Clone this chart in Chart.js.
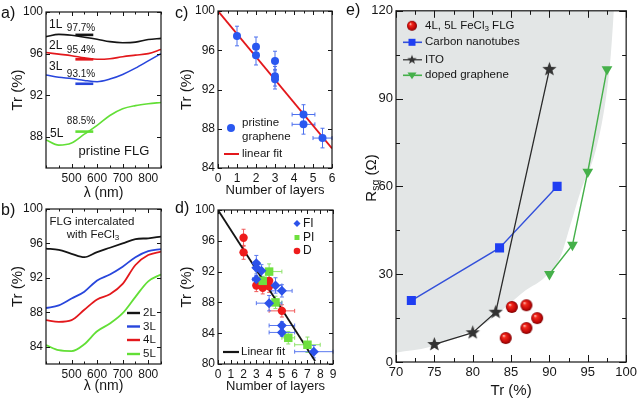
<!DOCTYPE html>
<html lang="en">
<head>
<meta charset="UTF-8">
<title>FLG transmittance and sheet resistance</title>
<script src="https://cdn.jsdelivr.net/npm/chart.js@4.4.0/dist/chart.umd.min.js"></script>
<style>
    body{margin:0;width:640px;height:403px;position:relative;overflow:hidden;background:#fff;
         font-family:'Liberation Sans',Arial,sans-serif;color:#111;}
    canvas{position:absolute;}
    .tag{position:absolute;font-size:16px;line-height:16px;}
</style>
</head>
<body>
<canvas id="ca" width="170" height="204" style="left:0;top:0"></canvas>
<canvas id="cb" width="170" height="200" style="left:0;top:196px"></canvas>
<canvas id="cc" width="170" height="204" style="left:172px;top:0"></canvas>
<canvas id="cd" width="170" height="200" style="left:172px;top:196px"></canvas>
<canvas id="ce" width="290" height="403" style="left:350px;top:0"></canvas>
<div class="tag" style="left:1px;top:5px">a)</div>
<div class="tag" style="left:1px;top:202px">b)</div>
<div class="tag" style="left:175px;top:5px">c)</div>
<div class="tag" style="left:175px;top:200px">d)</div>
<div class="tag" style="left:346px;top:2px">e)</div>
<script>
// a) pristine FLG spectra
const lambda = [400, 450, 500, 550, 600, 650, 700, 750, 800, 850];
const tr1L = [97.63, 97.85, 97.76, 97.58, 97.38, 97.15, 97.05, 97.1, 97.35, 97.46];
const tr2L = [96.1, 95.95, 95.8, 95.6, 95.45, 95.5, 95.7, 95.85, 96.0, 96.4];
const tr3L = [93.95, 93.72, 93.6, 93.42, 93.3, 93.55, 94.0, 94.6, 95.3, 96.0];
const tr5L = [87.7, 87.2, 87.4, 88.25, 89.1, 90.05, 90.7, 91.0, 91.18, 91.3];
const avgBand = [515, 585];
const avgTr = [97.8, 95.45, 93.1, 88.5];
const avgLabel = ['97.7%', '95.4%', '93.1%', '88.5%'];

// b) FeCl3 intercalated FLG spectra
const fe2L = [95.4, 95.25, 94.8, 94.4, 95.0, 95.5, 96.0, 96.5, 96.6, 96.8];
const fe3L = [88.5, 88.8, 89.6, 90.4, 91.7, 92.4, 93.3, 94.4, 95.1, 95.35];
const fe4L = [87.1, 86.9, 87.1, 88.3, 89.5, 90.1, 91.3, 93.5, 94.65, 95.05];
const fe5L = [84.2, 83.6, 83.5, 84.3, 85.8, 86.7, 87.9, 89.8, 91.6, 92.4];

// c) pristine graphene vs number of layers
const cLayers = [1, 2, 2, 3, 3, 3, 4.5, 4.5, 5.5];
const cTr = [97.45, 96.35, 95.5, 94.9, 93.35, 93.05, 89.45, 88.45, 87.05];
const cErrX = [0, 0, 0, 0, 0, 0, 0.6, 0.6, 0.5];
const cErrY = [1, 1, 1, 1, 1, 1, 1, 1, 1];
const cFitX = [0, 6];
const cFitY = [100, 86];

// d) intercalated samples vs number of layers
const fiN = [3, 3, 3.4, 3, 4.5, 5, 4, 5, 5, 7.5];
const fiTr = [93.1, 92.5, 92.1, 91.0, 90.2, 89.5, 87.9, 85.0, 84.1, 81.6];
const fiErrX = [0.2, 0.2, 0.4, 0.3, 0.5, 0.8, 1, 1, 1, 1.5];
const fiErrY = [1, 0.8, 0.8, 0.5, 1, 0.8, 1, 0.5, 0.5, 0.8];
const piN = [4, 3.5, 4.5, 5.5, 7];
const piTr = [92.0, 90.8, 88.0, 83.4, 82.5];
const piErrX = [1, 0.5, 0.5, 0.5, 1];
const piErrY = [1, 0.6, 0.8, 0.8, 1];
const dN = [2, 2, 3, 3.5, 4, 4, 5];
const dTr = [96.4, 94.5, 90.2, 89.9, 90.8, 90.1, 86.9];
const dErrX = [0, 0, 0, 0, 0, 0, 1];
const dErrY = [1.1, 0.9, 0.8, 0.8, 0.8, 0.8, 0.8];
const dFitX = [0, 7.6];
const dFitY = [100, 80.4];

// e) sheet resistance vs transmittance
const feTr = [84.3, 85.1, 87.0, 87.0, 88.4];
const feRs = [8.2, 18.8, 19.4, 11.6, 15.0];
const cntTr = [72, 83.5, 91];
const cntRs = [21, 39, 60];
const itoTr = [75, 80, 83, 90];
const itoRs = [6, 10, 17, 100];
const dgTr = [90, 93, 95, 97.5];
const dgRs = [30, 40, 65, 100];
const shadeTr = [70, 74.4, 77.8, 81.7, 84.3, 86.9, 89.4, 91.4, 92.8, 94.1, 96, 97.3, 98, 98.4];
const shadeRs = [3.2, 5.1, 8.5, 13.3, 18.8, 24.5, 29, 35.8, 47.4, 58.6, 72, 89, 105, 120];

// tick labels
const wlTicks = [500, 600, 700, 800];
const aYTicks = [88, 92, 96, 100];
const bYTicks = [84, 88, 92, 96, 100];
const cXTicks = [0, 1, 2, 3, 4, 5, 6];
const cYTicks = [84, 88, 92, 96, 100];
const dXTicks = [0, 1, 2, 3, 4, 5, 6, 7, 8, 9];
const dYTicks = [80, 84, 88, 92, 96, 100];
const eXTicks = [70, 75, 80, 85, 90, 95, 100];
const eYTicks = [0, 30, 60, 90, 120];

const FONT = "'Liberation Sans',Arial,sans-serif";
const INK = '#151515';
const RED = '#e3181c', BLUE = '#2846dc', GREEN = '#62df36';

const pts = (xs, ys) => xs.map((v, i) => ({x: v, y: ys[i]}));

// text with optional subscripts: parts are strings, or [string] for a subscript
function richText(ctx, x, y, parts, size, align, color) {
    ctx.save();
    ctx.fillStyle = color || INK;
    ctx.textBaseline = 'middle';
    ctx.textAlign = 'left';
    const seg = parts.map(p => {
        const sub = Array.isArray(p);
        const fs = sub ? size * 0.7 : size;
        ctx.font = fs + 'px ' + FONT;
        const t = sub ? p[0] : p;
        return {t, fs, sub, w: ctx.measureText(t).width};
    });
    const total = seg.reduce((s, g) => s + g.w, 0);
    let cx = align === 'center' ? x - total / 2 : align === 'right' ? x - total : x;
    seg.forEach(g => {
        ctx.font = g.fs + 'px ' + FONT;
        ctx.fillText(g.t, cx, g.sub ? y + size * 0.3 : y);
        cx += g.w;
    });
    ctx.restore();
}

function marker(ctx, style, x, y, r, color) {
    ctx.save();
    ctx.fillStyle = color;
    ctx.beginPath();
    if (style instanceof HTMLCanvasElement) {
        ctx.drawImage(style, x - style.width / 2, y - style.height / 2);
    } else if (style === 'circle') {
        ctx.arc(x, y, r, 0, 2 * Math.PI);
    } else if (style === 'rect') {
        ctx.rect(x - r, y - r, 2 * r, 2 * r);
    } else if (style === 'rectRot') {
        ctx.moveTo(x, y - r); ctx.lineTo(x + r, y); ctx.lineTo(x, y + r); ctx.lineTo(x - r, y);
    } else if (style === 'triDown') {
        ctx.moveTo(x - r, y - r * 0.6); ctx.lineTo(x + r, y - r * 0.6); ctx.lineTo(x, y + r * 0.9);
    }
    ctx.closePath();
    ctx.fill();
    ctx.restore();
}

// legends and notes, placed in pixels from the chart area's top-left corner
function overlay(items, extra) {
    return {
        id: 'overlay',
        afterDraw(chart) {
            const {ctx, chartArea: a} = chart;
            items.forEach(it => {
                const x = a.left + (it.dx || 0), y = a.top + it.dy;
                if (it.line) {
                    ctx.save();
                    ctx.strokeStyle = it.color; ctx.lineWidth = it.lw || 2;
                    ctx.beginPath();
                    ctx.moveTo(a.left + it.line[0], y); ctx.lineTo(a.left + it.line[1], y);
                    ctx.stroke();
                    ctx.restore();
                }
                if (it.mark) marker(ctx, it.mark, x, y, it.r, it.mcolor || it.color);
                if (it.text) richText(ctx, x, y, it.text, it.size, it.align || 'left', it.tcolor);
            });
            if (extra) extra(chart);
        }
    };
}

// box round the plot with inward ticks on all four sides
function frame(xMinor, yMinor, major, minor) {
    return {
        id: 'frame',
        afterDatasetsDraw(chart) {
            const {ctx, chartArea: a, scales: {x, y}} = chart;
            ctx.save();
            ctx.strokeStyle = INK;
            ctx.lineWidth = 1;
            ctx.beginPath();
            const tx = (v, len) => {
                const p = Math.round(x.getPixelForValue(v)) + 0.5;
                ctx.moveTo(p, a.bottom); ctx.lineTo(p, a.bottom - len);
                ctx.moveTo(p, a.top); ctx.lineTo(p, a.top + len);
            };
            const ty = (v, len) => {
                const p = Math.round(y.getPixelForValue(v)) + 0.5;
                ctx.moveTo(a.left, p); ctx.lineTo(a.left + len, p);
                ctx.moveTo(a.right, p); ctx.lineTo(a.right - len, p);
            };
            if (xMinor) for (let v = x.min; v <= x.max + 1e-6; v += xMinor) tx(v, minor);
            if (yMinor) for (let v = y.min; v <= y.max + 1e-6; v += yMinor) ty(v, minor);
            x.ticks.forEach(t => tx(t.value, major));
            y.ticks.forEach(t => ty(t.value, major));
            ctx.stroke();
            ctx.lineWidth = 1.2;
            ctx.strokeRect(a.left, a.top, a.right - a.left, a.bottom - a.top);
            ctx.restore();
        }
    };
}

const errorBars = {
    id: 'errorBars',
    beforeDatasetsDraw(chart) {
        const {ctx, scales: {x, y}} = chart;
        chart.data.datasets.forEach(ds => {
            if (!ds.errY) return;
            ctx.save();
            ctx.strokeStyle = ds.errColor;
            ctx.lineWidth = 1;
            ds.data.forEach((p, i) => {
                const px = x.getPixelForValue(p.x), py = y.getPixelForValue(p.y);
                const ey = ds.errY[i], ex = ds.errX[i], cap = 2;
                ctx.beginPath();
                if (ey) {
                    const t = y.getPixelForValue(p.y + ey), b = y.getPixelForValue(p.y - ey);
                    ctx.moveTo(px, t); ctx.lineTo(px, b);
                    ctx.moveTo(px - cap, t); ctx.lineTo(px + cap, t);
                    ctx.moveTo(px - cap, b); ctx.lineTo(px + cap, b);
                }
                if (ex) {
                    const l = x.getPixelForValue(p.x - ex), r = x.getPixelForValue(p.x + ex);
                    ctx.moveTo(l, py); ctx.lineTo(r, py);
                    ctx.moveTo(l, py - cap); ctx.lineTo(l, py + cap);
                    ctx.moveTo(r, py - cap); ctx.lineTo(r, py + cap);
                }
                ctx.stroke();
            });
            ctx.restore();
        });
    }
};

function axis(min, max, ticks, tickSize, title, titleSize, titlePad, size, vertical) {
    return {
        type: 'linear', min, max,
        grid: {display: false, drawTicks: false},
        border: {display: false},
        ticks: {font: {family: FONT, size: tickSize}, color: INK, padding: 3, maxRotation: 0, autoSkip: false},
        afterBuildTicks: s => { s.ticks = ticks.map(v => ({value: v})); },
        afterFit: s => { if (vertical) s.width = size; else s.height = size; },
        title: title ? {display: true, text: title, color: INK, font: {family: FONT, size: titleSize}, padding: titlePad}
                     : {display: false}
    };
}

function options(padding, x, y) {
    return {
        responsive: false, animation: false, events: [],
        layout: {padding},
        plugins: {legend: {display: false}, tooltip: {enabled: false}},
        scales: {x, y}
    };
}

const curve = (ys, color, lw) => ({
    data: pts(lambda, ys), showLine: true, borderColor: color, borderWidth: lw || 1.6,
    pointRadius: 0, tension: 0.4, cubicInterpolationMode: 'monotone', fill: false
});

// ---------- a ----------
const bandColors = [INK, RED, BLUE, GREEN];
new Chart(document.getElementById('ca'), {
    type: 'scatter',
    data: {datasets: [
        curve(tr1L, INK), curve(tr2L, RED), curve(tr3L, BLUE), curve(tr5L, GREEN),
        ...avgTr.map((v, i) => ({
            data: pts(avgBand, [v, v]), showLine: true, borderColor: bandColors[i],
            borderWidth: 2.6, pointRadius: 0
        }))
    ]},
    options: options({left: 0, right: 9, top: 12, bottom: 0},
        axis(400, 850, wlTicks, 12, 'λ (nm)', 14, {top: 0, bottom: 2}, 36, false),
        axis(85, 100, aYTicks, 12, 'Tr (%)', 15, {top: 9, bottom: 0}, 46, true)),
    plugins: [frame(50, 0, 4, 2.5), overlay([
        {dx: 3, dy: 13, text: ['1L'], size: 12},
        {dx: 35, dy: 16.5, text: [avgLabel[0]], size: 10, align: 'center'},
        {dx: 3, dy: 34, text: ['2L'], size: 12},
        {dx: 35, dy: 38.5, text: [avgLabel[1]], size: 10, align: 'center'},
        {dx: 3, dy: 55, text: ['3L'], size: 12},
        {dx: 35, dy: 62, text: [avgLabel[2]], size: 10, align: 'center'},
        {dx: 4, dy: 122, text: ['5L'], size: 12},
        {dx: 35, dy: 109, text: [avgLabel[3]], size: 10, align: 'center'},
        {dx: 68, dy: 139, text: ['pristine FLG'], size: 13, align: 'center'}
    ])]
});

// ---------- b ----------
new Chart(document.getElementById('cb'), {
    type: 'scatter',
    data: {datasets: [
        curve(fe2L, INK, 1.8), curve(fe3L, BLUE, 1.8), curve(fe4L, RED, 1.8), curve(fe5L, GREEN, 1.8)
    ]},
    options: options({left: 0, right: 9, top: 13, bottom: 0},
        axis(400, 850, wlTicks, 12, 'λ (nm)', 14, {top: 0, bottom: 1}, 32, false),
        axis(82, 100, bYTicks, 12, 'Tr (%)', 15, {top: 9, bottom: 0}, 46, true)),
    plugins: [frame(50, 0, 4, 2.5), overlay([
        {dx: 46, dy: 12.5, text: ['FLG intercalated'], size: 11.5, align: 'center'},
        {dx: 47, dy: 25.5, text: ['with FeCl', ['3']], size: 11.5, align: 'center'},
        {dx: 97, dy: 104, line: [81, 94], color: INK, lw: 2.4, text: ['2L'], size: 11.5},
        {dx: 97, dy: 117.5, line: [81, 94], color: BLUE, lw: 2.4, text: ['3L'], size: 11.5},
        {dx: 97, dy: 131, line: [81, 94], color: RED, lw: 2.4, text: ['4L'], size: 11.5},
        {dx: 97, dy: 145, line: [81, 94], color: GREEN, lw: 2.4, text: ['5L'], size: 11.5}
    ])]
});

// ---------- c ----------
const C_BLUE = '#2a58f0';
new Chart(document.getElementById('cc'), {
    type: 'scatter',
    data: {datasets: [
        {data: pts(cLayers, cTr), errX: cErrX, errY: cErrY, errColor: '#4d70ee',
         pointRadius: 4, pointBackgroundColor: C_BLUE, pointBorderWidth: 0, order: 0},
        {data: pts(cFitX, cFitY), showLine: true, borderColor: RED, borderWidth: 1.8, pointRadius: 0, order: 1}
    ]},
    options: options({left: 0, right: 10, top: 11, bottom: 0},
        axis(0, 6, cXTicks, 12, 'Number of layers', 13, {top: 0, bottom: 6}, 36, false),
        axis(84, 100, cYTicks, 12, 'Tr (%)', 15, {top: 6, bottom: 0}, 46, true)),
    plugins: [errorBars, frame(0.5, 0, 4, 2.5), overlay([
        {dx: 13, dy: 117, mark: 'circle', r: 4, color: C_BLUE},
        {dx: 24, dy: 112, text: ['pristine'], size: 11.5},
        {dx: 24, dy: 125.5, text: ['graphene'], size: 11.5},
        {dx: 24, dy: 143, line: [6, 21], color: RED, lw: 2, text: ['linear fit'], size: 11.5}
    ])]
});

// ---------- d ----------
const D_BLUE = '#2c52ea', D_GREEN = '#6ee03e', D_RED = '#ee1c1c';
new Chart(document.getElementById('cd'), {
    type: 'scatter',
    data: {datasets: [
        {data: pts(dN, dTr), errX: dErrX, errY: dErrY, errColor: '#f05a5a',
         pointRadius: 4.2, pointBackgroundColor: D_RED, pointBorderWidth: 0, order: 2},
        {data: pts(piN, piTr), errX: piErrX, errY: piErrY, errColor: '#8ee26a',
         pointStyle: 'rect', pointRadius: 6, pointBackgroundColor: D_GREEN, pointBorderWidth: 0, order: 1},
        {data: pts(fiN, fiTr), errX: fiErrX, errY: fiErrY, errColor: '#5a78ee',
         pointStyle: 'rectRot', pointRadius: 5, pointBackgroundColor: D_BLUE, pointBorderWidth: 0, order: 0},
        {data: pts(dFitX, dFitY), showLine: true, borderColor: INK, borderWidth: 1.8, pointRadius: 0, order: 3}
    ]},
    options: options({left: 0, right: 9, top: 14, bottom: 0},
        axis(0, 9, dXTicks, 12, 'Number of layers', 13, {top: 0, bottom: 2}, 32, false),
        axis(80, 100, dYTicks, 12, 'Tr (%)', 15, {top: 6, bottom: 0}, 46, true)),
    plugins: [errorBars, frame(0.5, 0, 4, 2.5), overlay([
        {dx: 79, dy: 13.5, mark: 'rectRot', r: 3.5, color: D_BLUE},
        {dx: 85, dy: 13.5, text: ['FI'], size: 12},
        {dx: 79, dy: 27.5, mark: 'rect', r: 2.5, color: D_GREEN},
        {dx: 85, dy: 27.5, text: ['PI'], size: 12},
        {dx: 79, dy: 41, mark: 'circle', r: 3.3, color: D_RED},
        {dx: 85, dy: 41, text: ['D'], size: 12},
        {dx: 23, dy: 142, line: [5, 21], color: INK, lw: 2.2, text: ['Linear fit'], size: 11.5}
    ])]
});

// ---------- e ----------
function sphere(r) {
    const c = document.createElement('canvas');
    c.width = c.height = 2 * r + 2;
    const g = c.getContext('2d');
    const grd = g.createRadialGradient(r + 1 - r * 0.35, r + 1 - r * 0.4, r * 0.05, r + 1, r + 1, r);
    grd.addColorStop(0, '#ffc2b8');
    grd.addColorStop(0.25, '#f42a1c');
    grd.addColorStop(0.75, '#c10808');
    grd.addColorStop(1, '#7a0000');
    g.fillStyle = grd;
    g.beginPath(); g.arc(r + 1, r + 1, r, 0, 2 * Math.PI); g.fill();
    return c;
}
function star(R, color) {
    const c = document.createElement('canvas');
    c.width = c.height = 2 * R + 2;
    const g = c.getContext('2d');
    g.fillStyle = color;
    g.beginPath();
    for (let k = 0; k < 10; k++) {
        const rr = k % 2 ? R * 0.42 : R;
        const ang = -Math.PI / 2 + k * Math.PI / 5;
        g.lineTo(R + 1 + rr * Math.cos(ang), R + 1 + rr * Math.sin(ang));
    }
    g.closePath(); g.fill();
    return c;
}
const ballImg = sphere(6), ballSmall = sphere(5);
const starImg = star(7.5, '#333'), starSmall = star(5, '#333');
const E_BLUE = '#1f3ef2', E_GREEN = '#45b04a', SHADE = '#e3e6e6';

new Chart(document.getElementById('ce'), {
    type: 'scatter',
    data: {datasets: [
        {data: pts(shadeTr, shadeRs), showLine: true, borderWidth: 0, borderColor: 'rgba(0,0,0,0)',
         backgroundColor: SHADE, fill: 'end', pointRadius: 0, tension: 0.4,
         cubicInterpolationMode: 'monotone', order: 10},
        {data: pts(cntTr, cntRs), showLine: true, borderColor: '#3350da', borderWidth: 1.4,
         pointStyle: 'rect', pointRadius: 6.4, pointBackgroundColor: E_BLUE, pointBorderWidth: 0, order: 3},
        {data: pts(itoTr, itoRs), showLine: true, borderColor: '#2a2a2a', borderWidth: 1.3,
         pointStyle: starImg, pointRadius: 7, order: 2},
        {data: pts(dgTr, dgRs), showLine: true, borderColor: E_GREEN, borderWidth: 1.4,
         pointStyle: 'triangle', rotation: 180, pointRadius: 6.2, pointBackgroundColor: E_GREEN,
         pointBorderWidth: 0, order: 1},
        {data: pts(feTr, feRs), pointStyle: ballImg, pointRadius: 6, order: 0}
    ]},
    options: options({left: 0, right: 11, top: 9, bottom: 0},
        axis(70, 100, eXTicks, 13, 'Tr (%)', 15, {top: 0, bottom: 3}, 41, false),
        axis(0, 120, eYTicks, 13, '', 15, 0, 46, true)),
    plugins: [frame(2.5, 15, 7, 4), overlay([
        {dx: 16, dy: 15, mark: ballSmall},
        {dx: 29, dy: 15, text: ['4L, 5L FeCl', ['3'], ' FLG'], size: 11.5},
        {dx: 16, dy: 31.5, line: [7, 26], color: '#3350da', lw: 1.6, mark: 'rect', r: 3.5, mcolor: E_BLUE},
        {dx: 29, dy: 31.5, text: ['Carbon nanotubes'], size: 11.5},
        {dx: 16, dy: 49, line: [7, 26], color: '#2a2a2a', lw: 1.2, mark: starSmall},
        {dx: 29, dy: 49, text: ['ITO'], size: 11.5},
        {dx: 16, dy: 64.5, line: [7, 26], color: E_GREEN, lw: 1.6, mark: 'triDown', r: 4.5},
        {dx: 29, dy: 64.5, text: ['doped graphene'], size: 11.5}
    ], chart => {
        const ctx = chart.ctx;
        ctx.save();
        ctx.translate(22, 178);
        ctx.rotate(-Math.PI / 2);
        richText(ctx, 0, 0, ['R', ['sq'], ' (Ω)'], 15, 'center');
        ctx.restore();
    })]
});
</script>
</body>
</html>
